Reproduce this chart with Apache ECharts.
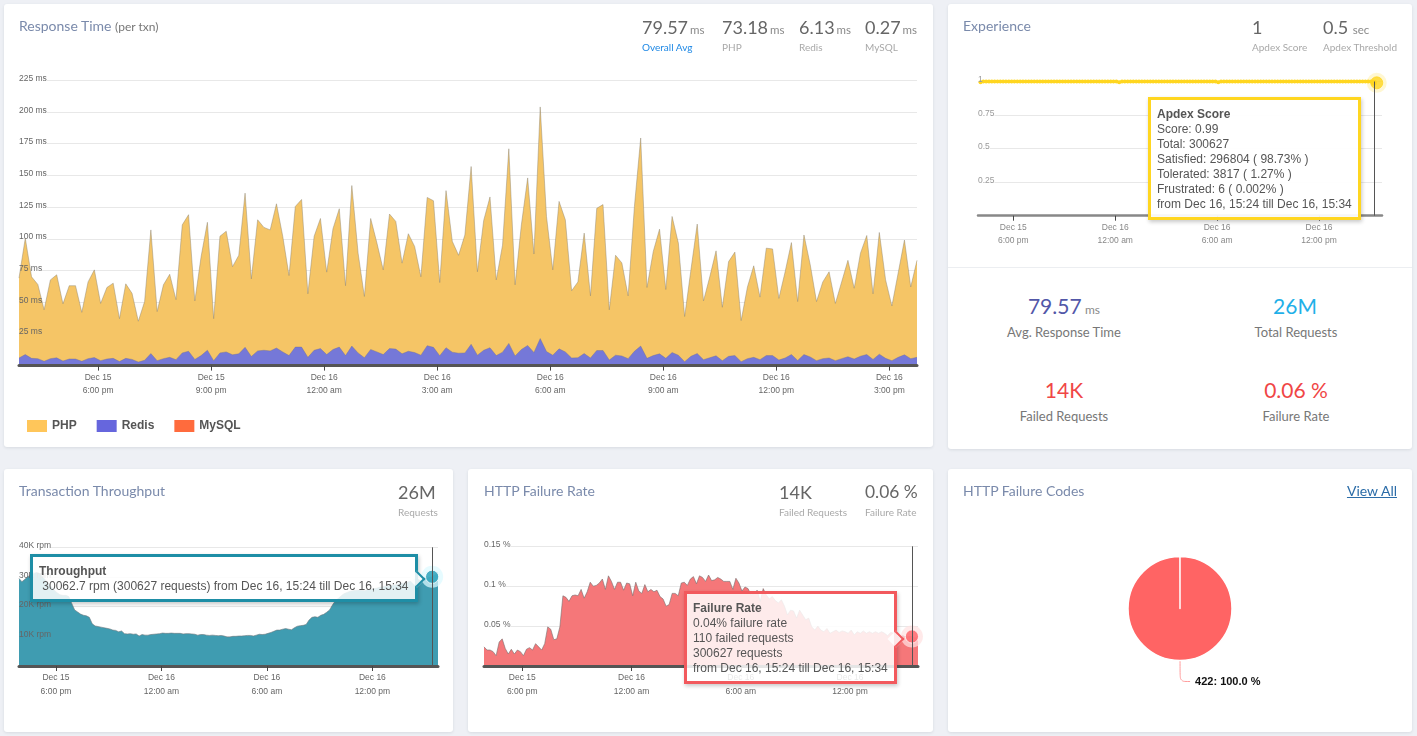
<!DOCTYPE html>
<html>
<head>
<meta charset="utf-8">
<title>Transaction overview</title>
<script src="https://cdn.jsdelivr.net/npm/echarts@6/dist/echarts.min.js"></script>
<style>
html, body { margin: 0; padding: 0; width: 1417px; height: 736px; overflow: hidden; background: #eef0f5; font-family: Lato, sans-serif; }
.card { position: absolute; background: #fff; border-radius: 3px; box-shadow: 0 1px 3px rgba(60,70,90,.12); }
.chart { position: absolute; }
.t { position: absolute; white-space: nowrap; line-height: 1; z-index: 3; }
.title { font-size: 14px; color: #7a8aab; }
.num { font-size: 18px; color: #666; }
.unit { font-size: 11.5px; color: #8a8a8a; margin-left: 2px; }
.sub { font-size: 10px; color: #a9a9a9; }
.big { font-size: 21px; transform: translateX(-50%); }
.cap { font-size: 13px; color: #777; transform: translateX(-50%); }
.tip-arrow { position: absolute; right: -8px; width: 10px; height: 10px; background: rgba(255,255,255,.85); border-top: 2px solid; border-right: 2px solid; transform: rotate(45deg); }
</style>
</head>
<body>
<div class="card" style="left:4px;top:4px;width:929px;height:443px"></div>
<div class="card" style="left:948px;top:4px;width:464px;height:445px"></div>
<div class="card" style="left:4px;top:469px;width:449px;height:263px"></div>
<div class="card" style="left:468px;top:469px;width:465px;height:263px"></div>
<div class="card" style="left:948px;top:469px;width:464px;height:263px"></div>
<div style="position:absolute;left:948px;top:267px;width:464px;height:1px;background:#eceef1"></div>

<div class="chart" id="responseChart" style="left:4px;top:4px;width:929px;height:443px"></div>
<div class="chart" id="apdexChart" style="left:948px;top:4px;width:464px;height:262px"></div>
<div class="chart" id="throughputChart" style="left:4px;top:469px;width:449px;height:263px"></div>
<div class="chart" id="failureChart" style="left:468px;top:469px;width:465px;height:263px"></div>
<div class="chart" id="codesChart" style="left:948px;top:469px;width:464px;height:263px"></div>

<span class="t title" style="left:19px;top:19px">Response Time <span style="font-size:12px;color:#777">(per txn)</span></span>
<span class="t num" style="left:642px;top:18px">79.57<span class="unit">ms</span></span>
<span class="t sub" style="left:642px;top:42px;color:#1e88e5">Overall Avg</span>
<span class="t num" style="left:722px;top:18px">73.18<span class="unit">ms</span></span>
<span class="t sub" style="left:722px;top:42px">PHP</span>
<span class="t num" style="left:799px;top:18px">6.13<span class="unit">ms</span></span>
<span class="t sub" style="left:799px;top:42px">Redis</span>
<span class="t num" style="left:865px;top:18px">0.27<span class="unit">ms</span></span>
<span class="t sub" style="left:865px;top:42px">MySQL</span>

<span class="t title" style="left:963px;top:19px">Experience</span>
<span class="t num" style="left:1252px;top:18px">1</span>
<span class="t sub" style="left:1252px;top:42px">Apdex Score</span>
<span class="t num" style="left:1323px;top:18px">0.5 <span class="unit" style="margin-left:0">sec</span></span>
<span class="t sub" style="left:1323px;top:42px">Apdex Threshold</span>

<span class="t big" style="left:1064px;top:295px;color:#5257a8">79.57 <span class="unit" style="font-size:12px;margin-left:-2px">ms</span></span>
<span class="t cap" style="left:1064px;top:326px">Avg. Response Time</span>
<span class="t big" style="left:1295px;top:295px;color:#1fb0e8">26M</span>
<span class="t cap" style="left:1296px;top:326px">Total Requests</span>
<span class="t big" style="left:1064px;top:379px;color:#f04646">14K</span>
<span class="t cap" style="left:1064px;top:410px">Failed Requests</span>
<span class="t big" style="left:1296px;top:379px;color:#f04646">0.06 %</span>
<span class="t cap" style="left:1296px;top:410px">Failure Rate</span>

<span class="t title" style="left:19px;top:484px">Transaction Throughput</span>
<span class="t num" style="left:398px;top:483px">26M</span>
<span class="t sub" style="left:398px;top:507px">Requests</span>

<span class="t title" style="left:484px;top:484px">HTTP Failure Rate</span>
<span class="t num" style="left:779px;top:483px">14K</span>
<span class="t sub" style="left:779px;top:507px">Failed Requests</span>
<span class="t num" style="left:865px;top:483px;font-size:17.4px">0.06 %</span>
<span class="t sub" style="left:865px;top:507px">Failure Rate</span>

<span class="t title" style="left:963px;top:484px">HTTP Failure Codes</span>
<a class="t" href="#" style="right:20px;top:484px;font-size:14px;color:#2b6ca8;text-decoration:underline">View All</a>

<script>
// values, one sample every 10 minutes
var stackTopValues = [69,100.5,70,64,44,67.6,71.6,48.7,63,63,42,66,75.5,49,61.6,65,37,64.5,57,35,50.5,107,42.6,63.7,72,52,111,119,51,86,113,37,102,106,78,87,136,68.4,115,109,107,127.6,102,71,125.5,131,56.6,102,116,73.7,108,123.7,63,142,88.7,54.5,116,96.6,75.5,119.5,113.7,80.8,104,94,70,132.6,130,65.5,138,98,87,103,157,74,114.5,133,67.6,95,171,63.7,111,148,88,204,117.6,75.5,129.5,115,59,66,104.5,55,124,127,44,87,81,55,125.5,179.5,61.6,90,107.6,60,117.6,96.6,38.7,75.5,111.6,51,70,90.5,46,82,89.5,35.5,62,78.7,54,92.6,92,53,74,97,50.5,103,79.5,50.5,66,74,49,66,83,61,88.7,102.6,56.6,105,67.6,47,73,99,62,83];
var redisValues = [5.8,8.4,5.5,5.3,3.2,5.3,5.8,3.4,5,5,3.2,5.3,6,3.7,5,5.5,3,5.5,4.7,2.6,4,9.2,3.7,5.3,6.3,4.5,9.7,11,4.7,7.6,11.8,3.7,9.7,10.5,8.2,9,14,7,11.3,11.8,11.3,13.4,10.5,7.6,14.2,14.2,6.3,11.8,13,8.4,12.4,14.2,7.6,15,9.7,6,12.4,10.5,8.4,13,12.6,9,11,10,7.9,15.3,14,7.6,13.7,10.3,9.5,9.7,16.3,7.9,11.8,13.7,7.6,10.3,17,7.4,12.4,15.5,10,20.8,10.8,7.9,12.9,10.5,5.8,6,9.2,5.8,11.6,11.6,4.2,7.9,7.4,5.3,11,15,5.5,7.6,9,5.5,10,7.9,2.9,7.1,9.2,4.5,6,7.4,3.7,7.1,7.6,2.9,5.3,6.3,4.5,7.6,7.6,4.2,5.8,8.4,3.9,8.4,6.6,3.7,5.3,5.8,3.7,5.3,6.8,5,7.1,8.4,4.7,8.7,5.5,3.7,6.3,8.2,5.3,6.3];
var mysqlValues = [0.2,0.3,0.2,0.2,0.2,0.2,0.3,0.2,0.2,0.2,0.2,0.2,0.3,0.2,0.2,0.2,0.2,0.2,0.2,0.2,0.2,0.3,0.2,0.2,0.2,0.2,0.3,0.3,0.2,0.3,0.3,0.2,0.3,0.3,0.3,0.3,0.4,0.2,0.3,0.3,0.3,0.4,0.3,0.3,0.4,0.4,0.2,0.3,0.4,0.3,0.3,0.4,0.3,0.4,0.3,0.2,0.3,0.3,0.3,0.4,0.4,0.3,0.3,0.3,0.3,0.4,0.4,0.2,0.4,0.3,0.3,0.3,0.5,0.3,0.3,0.4,0.3,0.3,0.5,0.2,0.3,0.4,0.3,0.5,0.3,0.3,0.3,0.3,0.2,0.2,0.3,0.2,0.3,0.3,0.2,0.3,0.2,0.2,0.3,0.4,0.2,0.3,0.3,0.2,0.3,0.3,0.2,0.2,0.3,0.2,0.2,0.3,0.2,0.2,0.3,0.2,0.2,0.2,0.2,0.3,0.3,0.2,0.2,0.3,0.2,0.3,0.2,0.2,0.2,0.2,0.2,0.2,0.2,0.2,0.3,0.3,0.2,0.3,0.2,0.2,0.2,0.3,0.2,0.2];
var apdexValues = [0.995,1,1,1,1,1,1,1,1,1,1,1,1,1,1,1,1,1,1,1,1,1,1,1,1,1,1,1,1,1,1,1,1,1,1,1,1,1,1,1,1,1,1,1,1,1,1,1,1,0.995,1,1,1,1,1,1,1,1,1,1,1,1,1,1,1,1,1,1,1,1,1,1,1,1,1,1,1,1,1,1,1,1,1,1,0.995,1,1,1,1,1,1,1,1,1,1,1,1,1,1,1,1,1,1,1,1,1,1,1,1,1,1,1,1,1,1,1,1,1,1,1,1,1,1,1,1,1,1,1,1,1,1,1,1,1,1,1,1,1,1,0.99];
var throughputValues = [29.5,28.4,29.2,30.1,30.7,31.2,31.5,31.2,30.1,29,27.9,26.7,25.6,24.7,24,23.8,23.8,23.4,21.1,18.9,18.2,17.5,17.1,16.9,16.4,14.2,13.5,13.3,13.1,12.9,12.7,12.5,12.1,12,11.5,11.8,10.9,10.8,10.9,10.7,10.8,10.1,10.6,10.4,10.4,10.6,10.7,10.8,10.9,11.1,11,11,11.1,11,11,11,10.8,10.9,10.9,10.8,10.7,10.4,10.6,10.6,10.4,10.3,10.4,10.3,10.2,10.3,10.1,9.8,9.8,10,10,10.1,10.1,10.2,10.3,10.3,10.1,10.4,10.7,10.6,10.7,11,11.3,11.7,12.1,12.1,12.4,12.6,12.4,12.2,12.9,13.4,13.6,13.7,14,15.5,16.4,16.6,16.4,17.1,17.4,18.1,18.9,20.6,22,22.8,23.7,24.4,24.8,25.2,25.4,25.5,25.6,25.5,25.4,25.8,25.8,26.1,26.2,26.5,26.7,27,27,27.2,27.3,27.5,27.8,27.9,28.1,28.4,28.8,29.2,29.2,28.8,29.2,29.6,29.8,30.06,30.7,31.2];
var failureValues = [0.024,0.02,0.02,0.018,0.013,0.03,0.034,0.022,0.015,0.021,0.015,0.02,0.018,0.013,0.021,0.023,0.02,0.028,0.024,0.02,0.028,0.049,0.046,0.033,0.034,0.049,0.088,0.086,0.081,0.088,0.089,0.088,0.096,0.085,0.093,0.105,0.1,0.101,0.104,0.109,0.096,0.113,0.106,0.096,0.105,0.105,0.095,0.104,0.103,0.088,0.105,0.094,0.091,0.102,0.093,0.096,0.093,0.095,0.087,0.084,0.075,0.077,0.091,0.091,0.088,0.104,0.105,0.101,0.109,0.112,0.103,0.113,0.111,0.106,0.114,0.107,0.108,0.111,0.109,0.106,0.106,0.106,0.096,0.11,0.104,0.094,0.099,0.097,0.089,0.091,0.095,0.081,0.097,0.089,0.084,0.087,0.082,0.079,0.083,0.075,0.064,0.07,0.069,0.06,0.07,0.064,0.058,0.06,0.049,0.045,0.05,0.045,0.043,0.047,0.041,0.043,0.045,0.042,0.044,0.043,0.041,0.045,0.039,0.043,0.041,0.044,0.041,0.043,0.041,0.043,0.041,0.043,0.041,0.038,0.042,0.041,0.038,0.035,0.038,0.036,0.037,0.037,0.035,0.036];
var failureCodes = ['422'];
var failureShares = [100.0];

var responseTicks = [18, 21, 24, 27, 30, 33, 36, 39];
var responseTickLabels = ['Dec 15\n6:00 pm', 'Dec 15\n9:00 pm', 'Dec 16\n12:00 am', 'Dec 16\n3:00 am', 'Dec 16\n6:00 am', 'Dec 16\n9:00 am', 'Dec 16\n12:00 pm', 'Dec 16\n3:00 pm'];
var dayTicks = [18, 24, 30, 36];
var dayTickLabels = ['Dec 15\n6:00 pm', 'Dec 16\n12:00 am', 'Dec 16\n6:00 am', 'Dec 16\n12:00 pm'];

var LABEL_FONT = '"Liberation Sans", Arial, sans-serif';
var START_HOUR = 15.9;
var END_HOUR = START_HOUR + 143 / 6;
var HOVER_INDEX = 141;

function hourAt(i) { return START_HOUR + i / 6; }
function points(values, offset) {
  return values.map(function (v, i) { return [hourAt(i + (offset || 0)), v]; });
}

function timeAxis(ticks, labels, min, max, lineColor, labelColor, lineWidth) {
  return {
    type: 'value', min: min, max: max, z: 4, splitLine: { show: false },
    axisLine: { lineStyle: { color: lineColor, width: lineWidth } },
    axisTick: { customValues: ticks, length: 5, lineStyle: { color: '#444' } },
    axisLabel: {
      customValues: ticks, margin: 5, color: labelColor, fontSize: 8.5, lineHeight: 13.5, fontFamily: LABEL_FONT,
      formatter: function (v) { return labels[ticks.indexOf(v)]; }
    }
  };
}
// two axes on one scale: grid lines stay behind the area, labels sit on top of it.
// the lower axis keeps an invisible label with a white box so the line starts after the text
function valueAxes(max, interval, fmt, labelColor) {
  var label = { inside: true, margin: 0, fontSize: 8.5, fontFamily: LABEL_FONT, formatter: fmt };
  return [
    { type: 'value', min: 0, max: max, interval: interval, axisLine: { show: false }, axisTick: { show: false },
      axisLabel: Object.assign({}, label, { verticalAlign: 'middle', lineHeight: 8, color: 'rgba(255,255,255,0)', backgroundColor: '#fff' }),
      splitLine: { lineStyle: { color: '#e8e8e8' } } },
    { type: 'value', min: 0, max: max, interval: interval, position: 'left', z: 5, axisLine: { show: false }, axisTick: { show: false }, splitLine: { show: false },
      axisLabel: Object.assign({}, label, { verticalAlign: 'bottom', lineHeight: 3.5, color: labelColor }) }
  ];
}
function areaSeries(name, values, color, stroke, extra) {
  return Object.assign({
    name: name, type: 'line', data: points(values), symbol: 'none', emphasis: { disabled: true },
    itemStyle: { color: color }, lineStyle: { color: stroke, width: 1 }, areaStyle: { color: color, opacity: 1 }
  }, extra || {});
}
function hoverSeries(hour, value, color, halo, ring, clip) {
  var base = { type: 'scatter', silent: true, clip: clip, data: [[hour, value]], z: 6 };
  return [
    Object.assign({}, base, { symbolSize: 20, itemStyle: { color: halo } }),
    Object.assign({}, base, { symbolSize: 12, itemStyle: { color: color, borderColor: ring, borderWidth: 1 } })
  ];
}
function tipBox(color, left, top, arrowTop, fill, html) {
  return {
    trigger: 'axis', alwaysShowContent: true, transitionDuration: 0, showDelay: 0, hideDelay: 0,
    position: function () { return [left, top]; },
    backgroundColor: fill, borderColor: color, borderWidth: 3, padding: [7, 6, 5, 6],
    textStyle: { color: '#555', fontSize: 12, fontFamily: LABEL_FONT, lineHeight: 15 },
    extraCssText: 'border-radius:0;box-shadow:1px 2px 4px rgba(0,0,0,.22);line-height:15px',
    axisPointer: { type: 'line', lineStyle: { color: '#555', width: 1, type: 'solid' }, animation: false, label: { show: false } },
    formatter: function () {
      var arrow = arrowTop == null ? '' : '<div class="tip-arrow" style="top:' + arrowTop + 'px;border-color:' + color + '"></div>';
      return html + arrow;
    }
  };
}

// ECharts stacks the x dimension when both axes are numeric, so the layers are
// drawn back to front at their stacked heights: total, then redis + mysql, then mysql
var redisTopValues = redisValues.map(function (r, i) { return r + mysqlValues[i]; });

var responseChart = echarts.init(document.getElementById('responseChart'));
responseChart.setOption({
  animation: false,
  grid: { left: 15, right: 16, top: 76.3, height: 285.3 },
  legend: {
    left: 18, top: 411, itemWidth: 20, itemHeight: 12, itemGap: 20, icon: 'rect', selectedMode: false,
    data: ['PHP', 'Redis', 'MySQL'],
    textStyle: { color: '#555', fontWeight: 'bold', fontSize: 12, fontFamily: LABEL_FONT }
  },
  xAxis: timeAxis(responseTicks, responseTickLabels, START_HOUR, END_HOUR, '#555', '#666', 3),
  yAxis: valueAxes(225, 25, function (v) { return v ? v + ' ms' : ''; }, '#666'),
  series: [
    areaSeries('PHP', stackTopValues, '#f5c566', 'rgba(140,130,110,.45)', { itemStyle: { color: '#ffc65a' } }),
    areaSeries('Redis', redisTopValues, '#7578d8', 'rgba(110,110,150,.4)', { itemStyle: { color: '#6666dd' } }),
    areaSeries('MySQL', mysqlValues, '#ff6b3d', 'rgba(120,110,110,.5)')
  ]
});

var apdexChart = echarts.init(document.getElementById('apdexChart'));
apdexChart.setOption({
  animation: false,
  grid: { left: 30, right: 30, top: 77.5, height: 134.2 },
  tooltip: tipBox('#ffd620', 200, 92.5, null, 'rgba(255,255,255,.92)',
    '<b>Apdex Score</b><br>Score: 0.99<br>Total: 300627<br>Satisfied: 296804 ( 98.73% )<br>Tolerated: 3817 ( 1.27% )<br>Frustrated: 6 ( 0.002% )<br>from Dec 16, 15:24 till Dec 16, 15:34'),
  xAxis: timeAxis(dayTicks, dayTickLabels, 15.92, 39.71, '#888', '#888', 2.5),
  yAxis: valueAxes(1, 0.25, function (v) { return v ? String(v) : ''; }, '#999'),
  series: [
    { name: 'Apdex Score', type: 'line', data: points(apdexValues, 1), symbol: 'circle', symbolSize: 4, showSymbol: true, showAllSymbol: true, emphasis: { disabled: true },
      itemStyle: { color: '#ffd620' }, lineStyle: { color: '#ffd620', width: 2.5 } }
  ].concat(hoverSeries(hourAt(HOVER_INDEX), apdexValues[apdexValues.length - 1], '#ffd620', 'rgba(255,214,32,.25)', '#ffd620', false))
});
apdexChart.dispatchAction({ type: 'showTip', seriesIndex: 0, dataIndex: apdexValues.length - 1 });

var throughputChart = echarts.init(document.getElementById('throughputChart'));
throughputChart.setOption({
  animation: false,
  grid: { left: 15, right: 15, top: 78.3, height: 118.7 },
  tooltip: tipBox('#1e8ea6', 25.5, 85, 16, 'rgba(255,255,255,.85)',
    '<b>Throughput</b><br>&nbsp;30062.7 rpm (300627 requests) from Dec 16, 15:24 till Dec 16, 15:34'),
  xAxis: timeAxis(dayTicks, dayTickLabels, START_HOUR, END_HOUR, '#555', '#666', 3),
  yAxis: valueAxes(40, 10, function (v) { return v ? v + 'K rpm' : ''; }, '#666'),
  series: [areaSeries('Throughput', throughputValues, '#3f9cb1', 'rgba(110,120,125,.6)')]
    .concat(hoverSeries(hourAt(HOVER_INDEX), throughputValues[HOVER_INDEX], '#1e8ea6', 'rgba(200,228,234,.9)', '#fff', true))
});
throughputChart.dispatchAction({ type: 'showTip', seriesIndex: 0, dataIndex: HOVER_INDEX });

var failureChart = echarts.init(document.getElementById('failureChart'));
failureChart.setOption({
  animation: false,
  grid: { left: 16, right: 15, top: 77.3, height: 119.7 },
  tooltip: tipBox('#f2595d', 215.5, 121.5, 39, 'rgba(255,255,255,.85)',
    '<b>Failure Rate</b><br>0.04% failure rate<br>110 failed requests<br>300627 requests<br>from Dec 16, 15:24 till Dec 16, 15:34'),
  xAxis: timeAxis(dayTicks, dayTickLabels, START_HOUR, END_HOUR, '#555', '#666', 3),
  yAxis: valueAxes(0.15, 0.05, function (v) { return v ? +v.toFixed(2) + ' %' : ''; }, '#666'),
  series: [areaSeries('Failure Rate', failureValues, '#f57779', 'rgba(120,110,110,.6)')]
    .concat(hoverSeries(hourAt(HOVER_INDEX), failureValues[HOVER_INDEX], '#f2595d', 'rgba(250,205,205,.9)', '#fff', true))
});
failureChart.dispatchAction({ type: 'showTip', seriesIndex: 0, dataIndex: HOVER_INDEX });

var codesChart = echarts.init(document.getElementById('codesChart'));
codesChart.setOption({
  animation: false,
  series: [{
    type: 'pie', center: [232, 139.5], radius: [0, 52], startAngle: 90, endAngle: -269.9, silent: true,
    data: failureCodes.map(function (c, i) { return { name: c, value: failureShares[i] }; }),
    itemStyle: { color: '#ff6464', borderColor: '#fff', borderWidth: 1.5 },
    label: { color: '#111', fontWeight: 'bold', fontSize: 11, fontFamily: LABEL_FONT,
      formatter: function (p) { return p.name + ': ' + p.value.toFixed(1) + ' %'; } },
    labelLine: { length: 21, length2: 10, smooth: true, lineStyle: { color: '#ff9a9a', width: 1 } }
  }]
});
</script>
</body>
</html>
